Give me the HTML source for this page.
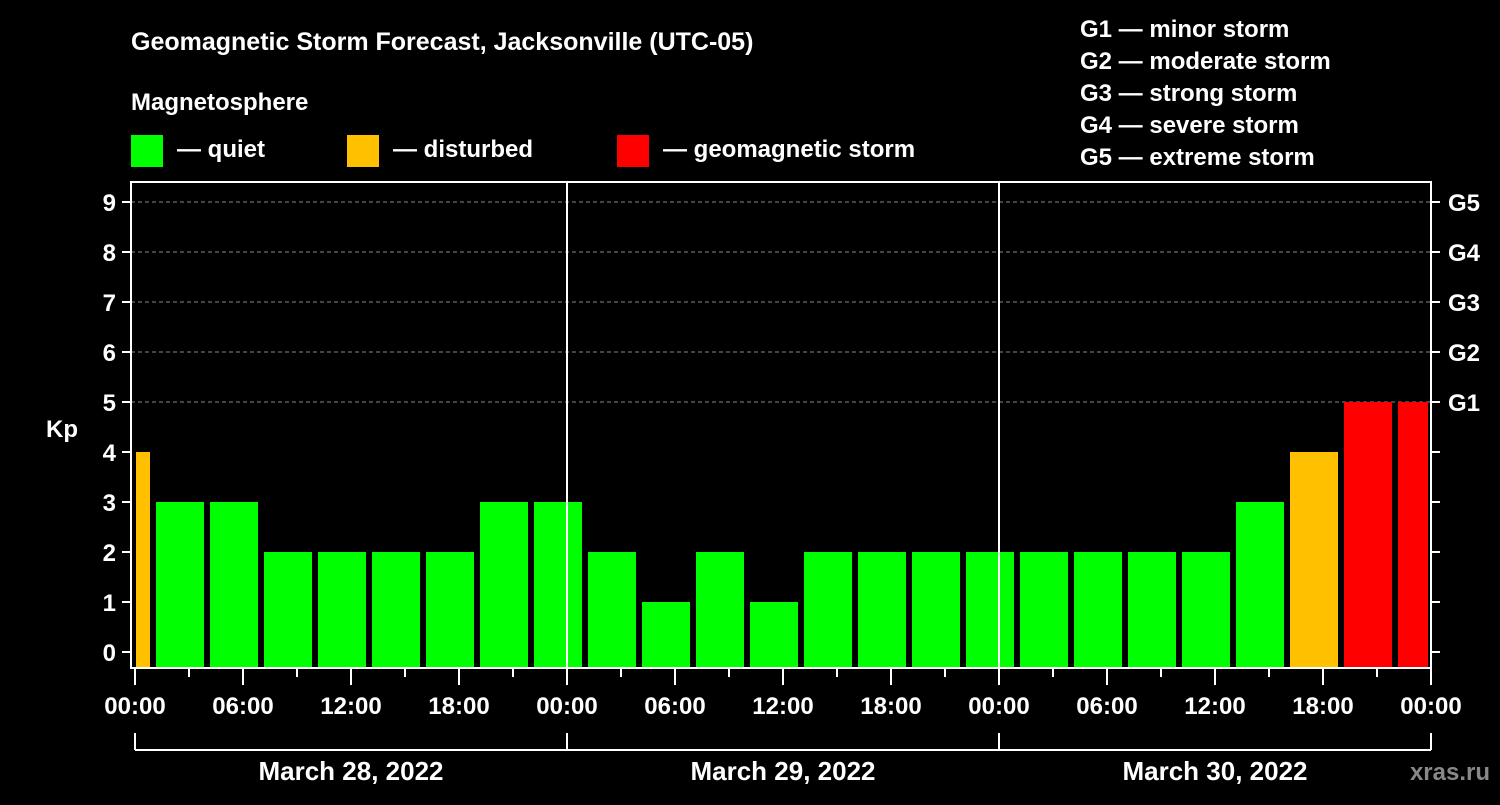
<!DOCTYPE html>
<html><head><meta charset="utf-8"><style>
body{margin:0;background:#000;width:1500px;height:800px;overflow:hidden}
text{font-family:"Liberation Sans",Arial,sans-serif;font-weight:bold;fill:#fff}
</style></head><body>
<svg id="chart" width="1500" height="800" xmlns="http://www.w3.org/2000/svg">
<text x="131" y="50" font-size="25">Geomagnetic Storm Forecast, Jacksonville (UTC-05)</text>
<text x="131" y="110" font-size="24">Magnetosphere</text>
<g><rect x="131" y="135" width="32" height="32" fill="#00ff00"/><text x="177" y="157" font-size="24">— quiet</text></g>
<g><rect x="347" y="135" width="32" height="32" fill="#ffc000"/><text x="393" y="157" font-size="24">— disturbed</text></g>
<g><rect x="617" y="135" width="32" height="32" fill="#ff0000"/><text x="663" y="157" font-size="24">— geomagnetic storm</text></g>
<g font-size="24">
<text x="1080" y="37">G1 — minor storm</text>
<text x="1080" y="69">G2 — moderate storm</text>
<text x="1080" y="101">G3 — strong storm</text>
<text x="1080" y="133">G4 — severe storm</text>
<text x="1080" y="165">G5 — extreme storm</text>
</g>
<text x="62" y="437" font-size="24" text-anchor="middle">Kp</text>
<text x="1490" y="780" font-size="24" text-anchor="end" fill="#888" style="fill:#888">xras.ru</text>
<g id="plot"></g>
</svg>
<script>
const kpValues=[4,3,3,2,2,2,2,3,3,2,1,2,1,2,2,2,2,2,2,2,2,3,4,5,5];
const slotStartHours=[0,1,4,7,10,13,16,19,22,25,28,31,34,37,40,43,46,49,52,55,58,61,64,67,70];
const slotEndHours=[1,4,7,10,13,16,19,22,25,28,31,34,37,40,43,46,49,52,55,58,61,64,67,70,72];
const dayLabels=["March 28, 2022","March 29, 2022","March 30, 2022"];
const hourLabels=["00:00","06:00","12:00","18:00"];
const gLabels=["G1","G2","G3","G4","G5"];
const NS="http://www.w3.org/2000/svg";
const g=document.getElementById('plot');
const X=h=>135+h*18;
const Y=v=>652-v*50;
function mk(tag,attrs,parent){const e=document.createElementNS(NS,tag);for(const k in attrs)e.setAttribute(k,attrs[k]);(parent||g).appendChild(e);return e;}
// grid
for(let v=5;v<=9;v++){const l=mk('line',{x1:131,x2:1431,y1:Y(v),y2:Y(v),stroke:'#888','stroke-dasharray':'4,3','stroke-width':1});

}
// bars
kpValues.forEach((v,i)=>{
 const x0=X(slotStartHours[i])+(slotStartHours[i]===0?1:3), x1=X(slotEndHours[i])-(slotEndHours[i]===72?3:3);
 const col=v>=5?'#ff0000':(v>=4?'#ffc000':'#00ff00');
 const r=mk('rect',{x:x0,y:Y(v),width:x1-x0,height:668-Y(v),fill:col});
 
 
});
// day lines
[1,2].forEach(d=>{const l=mk('line',{x1:X(d*24),x2:X(d*24),y1:182,y2:668,stroke:'#fff','stroke-width':2});

});
// frame
const f=mk('rect',{x:131,y:182,width:1300,height:486,fill:'none',stroke:'#fff','stroke-width':2});


// y ticks
for(let v=0;v<=9;v++){
 mk('line',{x1:122,x2:131,y1:Y(v),y2:Y(v),stroke:'#fff','stroke-width':2});
 mk('line',{x1:1431,x2:1440,y1:Y(v),y2:Y(v),stroke:'#fff','stroke-width':2});
 const t=mk('text',{x:116,y:Y(v)+9,'font-size':24,'text-anchor':'end'});t.textContent=v;
 
 
}
gLabels.forEach((s,i)=>{const t=mk('text',{x:1448,y:Y(5+i)+9,'font-size':24});t.textContent=s;
 
 });
// x ticks
for(let h=0;h<=72;h+=3){
 const big=h%6===0;
 mk('line',{x1:X(h),x2:X(h),y1:668,y2:big?685:677,stroke:'#fff','stroke-width':2});
 if(big){const t=mk('text',{x:X(h),y:714,'font-size':24,'text-anchor':'middle'});t.textContent=hourLabels[(h%24)/6];
 
 }
}
// bracket
mk('line',{x1:135,x2:1431,y1:750,y2:750,stroke:'#fff','stroke-width':2});
for(let d=0;d<=3;d++)mk('line',{x1:X(d*24),x2:X(d*24),y1:733,y2:750,stroke:'#fff','stroke-width':2});
dayLabels.forEach((s,d)=>{const t=mk('text',{x:X(d*24+12),y:780,'font-size':26,'text-anchor':'middle'});t.textContent=s;
 
 });
</script>
</body></html>
